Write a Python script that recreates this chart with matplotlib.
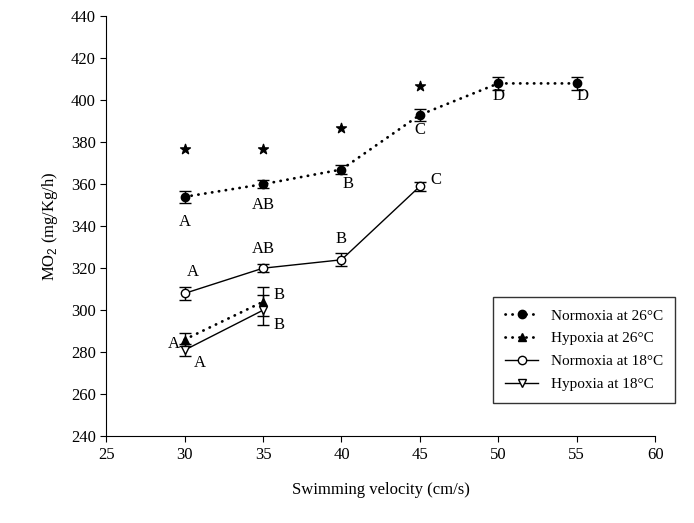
import matplotlib.pyplot as plt
import numpy as np

plt.rcParams['font.family'] = ['Liberation Serif', 'DejaVu Serif']
plt.rcParams['mathtext.fontset'] = 'custom'
plt.rcParams['mathtext.rm'] = 'Liberation Sans'

# data
vel_26n = [30, 35, 40, 45, 50, 55]
mo2_26n = [354, 360, 367, 393, 408, 408]
err_26n = [3, 2, 2, 3, 3, 3]

vel_26h = [30, 35]
mo2_26h = [286, 304]
err_26h = [3, 7]

vel_18n = [30, 35, 40, 45]
mo2_18n = [308, 320, 324, 359]
err_18n = [3, 2, 3, 2]

vel_18h = [30, 35]
mo2_18h = [281, 300]
err_18h = [3, 7]

star_x = [30, 35, 40, 45]
star_y = [377, 377, 387, 407]

# letters: (x, y, text)
letters = [
    (30, 342, 'A'), (35, 350, 'AB'), (40.4, 360, 'B'), (45, 386, 'C'), (50, 402, 'D'), (55.4, 402, 'D'),
    (30.5, 318, 'A'), (35, 329, 'AB'), (40, 334, 'B'), (46, 362, 'C'),
    (29.3, 284, 'A'), (36, 307, 'B'),
    (31, 275, 'A'), (36, 293, 'B'),
]

fig = plt.figure(figsize=(6.94, 5.23), dpi=100)
ax = fig.add_axes([0.153, 0.166, 0.791, 0.803])

dots = (0, (0.1, 2.4))
eb = dict(capsize=4, elinewidth=1, capthick=1, ecolor='black', color='black', markersize=6)
c1 = ax.errorbar(vel_26n, mo2_26n, yerr=err_26n, fmt='o', linestyle=dots, linewidth=2,
                 markerfacecolor='black', dash_capstyle='round', **eb)
c2 = ax.errorbar(vel_26h, mo2_26h, yerr=err_26h, fmt='^', linestyle=dots, linewidth=2,
                 markerfacecolor='black', dash_capstyle='round', **eb)
c3 = ax.errorbar(vel_18n, mo2_18n, yerr=err_18n, fmt='o', linestyle='-', linewidth=1,
                 markerfacecolor='white', **eb)
c4 = ax.errorbar(vel_18h, mo2_18h, yerr=err_18h, fmt='v', linestyle='-', linewidth=1,
                 markerfacecolor='white', **eb)

ax.scatter(star_x, star_y, marker='*', s=55, color='black', zorder=3)

for lx, ly, t in letters:
    ax.text(lx, ly, t, ha='center', va='center', fontsize=12)

ax.set_xlim(25, 60)
ax.set_ylim(240, 440)
ax.set_xticks(np.arange(25, 61, 5))
ax.set_yticks(np.arange(240, 441, 20))
ax.tick_params(direction='out', labelsize=12, length=4)
ax.spines['top'].set_visible(False)
ax.spines['right'].set_visible(False)

ax.set_xlabel('Swimming velocity (cm/s)', fontsize=12, labelpad=14)
ax.set_ylabel('MO$_2$ (mg/Kg/h)', fontsize=12, labelpad=8)

labels = ['Normoxia at 26°C', 'Hypoxia at 26°C', 'Normoxia at 18°C', 'Hypoxia at 18°C']
handles = [c.lines[0] for c in (c1, c2, c3, c4)]
leg = ax.legend(handles, labels, loc='lower right', bbox_to_anchor=(1.05, 0.06), fontsize=11,
                fancybox=False, edgecolor='black', handlelength=2.2, borderpad=0.8,
                labelspacing=0.6)
leg.get_frame().set_linewidth(1)

plt.savefig('out.png', dpi=100)
